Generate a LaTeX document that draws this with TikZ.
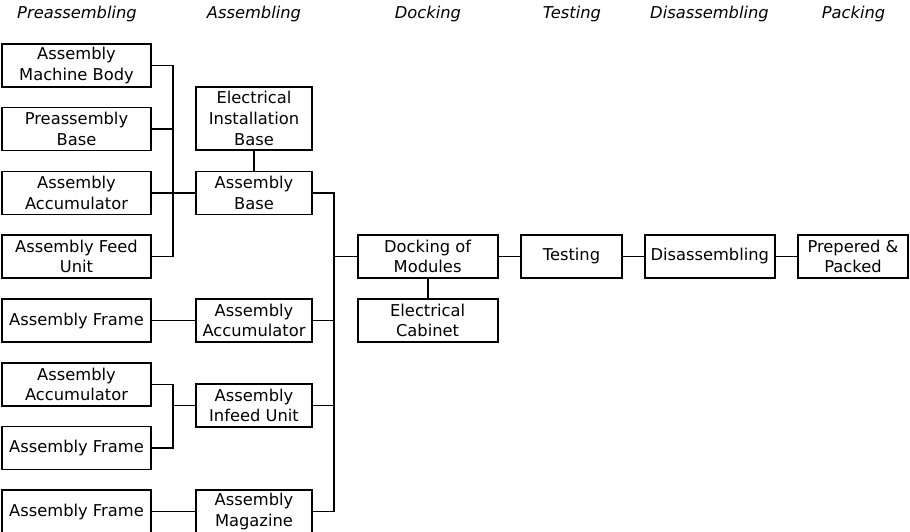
\documentclass[tikz,border=0pt]{standalone}
\usepackage{fontspec}
\setmainfont{DejaVu Sans}
\begin{document}
\begin{tikzpicture}[x=1pt,y=-1pt,
  txt/.style={font=\fontsize{16.3}{20.8}\selectfont},
  stage/.style={font=\fontsize{16.3}{20.5}\selectfont\itshape,inner sep=0pt},
  box/.style={draw,line width=1.8pt,align=center,inner sep=0pt,txt,
              minimum height=43pt},
  lbox/.style={box,minimum width=149pt},
  mbox/.style={box,minimum width=116pt},
  link/.style={line width=1.8pt}]
\useasboundingbox[fill=white] (0,0) rectangle (910,531);

% stage headings
\node[stage] (hPre)  at (77,14)    {Preassembling};
\node[stage] (hAss)  at (254,14)   {Assembling};
\node[stage] (hDock) at (428,14)   {Docking};
\node[stage] (hTest) at (572,14)   {Testing};
\node[stage] (hDis)  at (709.5,14) {Disassembling};
\node[stage] (hPack) at (853.5,14) {Packing};

% preassembling column
\node[lbox] (L1) at (76.5,65.5)  {Assembly\\Machine Body};
\node[lbox] (L2) at (76.5,129)   {Preassembly\\Base};
\node[lbox] (L3) at (76.5,193)   {Assembly\\Accumulator};
\node[lbox] (L4) at (76.5,256.5) {Assembly Feed\\Unit};
\node[lbox] (L5) at (76.5,320.5) {Assembly Frame};
\node[lbox] (L6) at (76.5,384.5) {Assembly\\Accumulator};
\node[lbox] (L7) at (76.5,448)   {Assembly Frame};
\node[lbox] (L8) at (76.5,511.5) {Assembly Frame};

% assembling column
\node[mbox,minimum height=63pt] (EIB) at (254,118.5) {Electrical\\Installation\\Base};
\node[mbox] (AB)   at (254,193)   {Assembly\\Base};
\node[mbox] (AAcc) at (254,320.5) {Assembly\\Accumulator};
\node[mbox] (AIU)  at (254,405.5) {Assembly\\Infeed Unit};
\node[mbox] (AMag) at (254,511.5) {Assembly\\Magazine};

% docking and later stages
\node[box,minimum width=140pt] (DM) at (427.6,256.4) {Docking of\\Modules};
\node[box,minimum width=140pt] (EC) at (427.6,320.5) {Electrical\\Cabinet};
\node[box,minimum width=101.6pt] (TS) at (571.5,256.4) {Testing};
\node[box,minimum width=130.3pt] (DS) at (709.8,256.4) {Disassembling};
\node[box,minimum width=110.6pt] (PP) at (853,256.4) {Prepered \&\\Packed};

% collecting buses
\coordinate (busA) at (173,0);
\coordinate (busB) at (334,0);

% connectors into Assembly Base
\draw[link] (L1.east) -- (L1.east -| busA) -- (L4.east -| busA) -- (L4.east);
\draw[link] (L2.east) -- (L2.east -| busA);
\draw[link] (L3.east) -- (AB.west);
\draw[link] (EIB) -- (AB);

% other assemblies
\draw[link] (L5) -- (AAcc);
\draw[link] (L6.east) -- (L6.east -| busA) -- (L7.east -| busA) -- (L7.east);
\draw[link] (AIU.west) -- (AIU.west -| busA);
\draw[link] (L8) -- (AMag);

% assemblies into docking
\draw[link] (AB.east) -- (AB.east -| busB) -- (AMag.east -| busB) -- (AMag.east);
\draw[link] (AAcc.east) -- (AAcc.east -| busB);
\draw[link] (AIU.east) -- (AIU.east -| busB);
\draw[link] (DM.west) -- (DM.west -| busB);
\draw[link] (DM) -- (EC);

% final chain
\draw[link] (DM) -- (TS);
\draw[link] (TS) -- (DS);
\draw[link] (DS) -- (PP);
\end{tikzpicture}
\end{document}
